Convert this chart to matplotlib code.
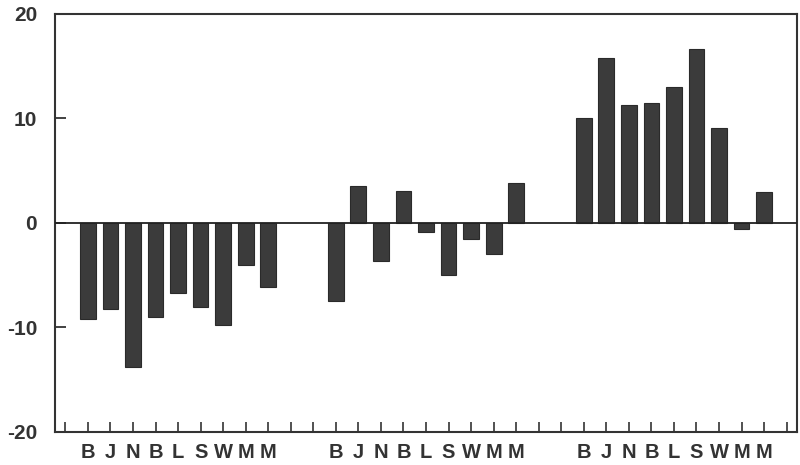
import matplotlib
matplotlib.use("Agg")
import matplotlib.pyplot as plt
import numpy as np

plt.rcParams["font.family"] = ["Liberation Sans", "DejaVu Sans"]

# Three groups of nine bars, same category letters in each group
labels = ["B", "J", "N", "B", "L", "S", "W", "M", "M"]
group1 = [-9.2, -8.2, -13.8, -9.0, -6.7, -8.0, -9.8, -4.0, -6.1]
group2 = [-7.5, 3.5, -3.6, 3.1, -0.9, -5.0, -1.5, -3.0, 3.8]
group3 = [10.0, 15.8, 11.3, 11.5, 13.0, 16.6, 9.1, -0.6, 3.0]
group_starts = [1, 12, 23]
yticks = [-20, -10, 0, 10, 20]

fig = plt.figure(figsize=(8, 4.65), dpi=100)
ax = fig.add_axes([0.069, 0.071, 0.927, 0.899])

bar_color = "#3b3b3b"
xs_all, labs_all = [], []
for start, vals in zip(group_starts, [group1, group2, group3]):
    xs = np.arange(start, start + len(vals))
    ax.bar(xs, vals, width=0.7, color=bar_color, edgecolor="#2a2a2a", linewidth=0.8, zorder=2)
    xs_all.extend(xs)
    labs_all.extend(labels)

ax.axhline(0, color="#222222", linewidth=1.3, zorder=3)

ax.set_xlim(-0.45, 32.45)
ax.set_ylim(-20, 20)

# tick marks at every slot, labels only under bars
ax.set_xticks(np.arange(0, 33), minor=True)
ax.set_xticks(xs_all)
ax.set_xticklabels(labs_all, fontsize=14.5, fontweight="bold", color="#333333")
ax.tick_params(axis="x", which="both", direction="in", length=7, width=1.2,
               color="#333333", pad=8)

ax.set_yticks(yticks)
ax.set_yticklabels([str(v) for v in yticks], fontsize=15, fontweight="bold", color="#333333")
ax.tick_params(axis="y", direction="in", length=8, width=1.3, color="#333333", pad=13)

for s in ax.spines.values():
    s.set_linewidth(1.5)
    s.set_color("#333333")

fig.savefig("out.png", dpi=100)
plt.close(fig)
